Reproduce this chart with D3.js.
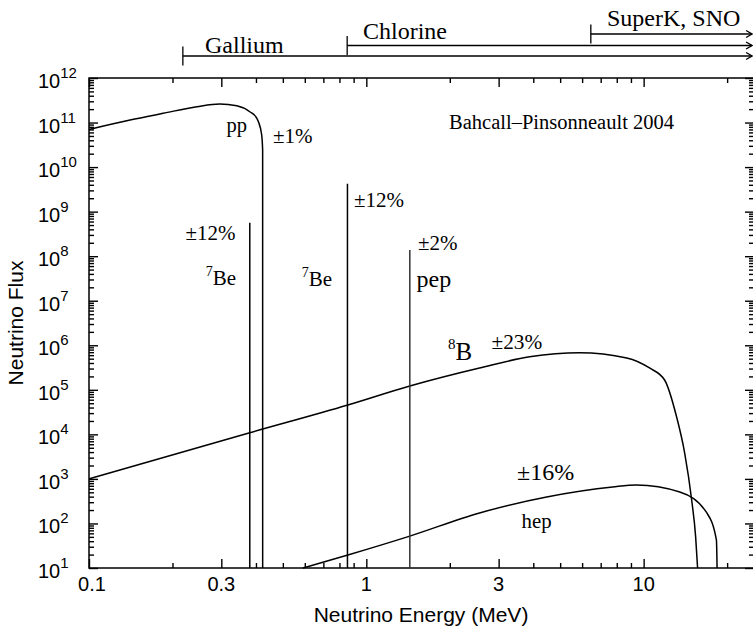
<!DOCTYPE html>
<html><head><meta charset="utf-8">
<script src="https://cdn.jsdelivr.net/npm/d3@7"></script>
<style>body{margin:0;background:#fff}svg{display:block}</style>
</head><body>
<svg id="chart" width="753" height="630"></svg>
<script>
// ---------------- data ----------------
const ppEnergy = [0.1, 0.1406, 0.185, 0.245, 0.296, 0.341, 0.380, 0.403, 0.408, 0.4195, 0.4228, 0.4229];
const ppFlux   = [7.0e10, 1.14e11, 1.61e11, 2.27e11, 2.61e11, 2.39e11, 1.75e11, 1.24e11, 1.05e11, 5.25e10, 2.4e10, 10];

const b8Energy = [0.1, 0.38, 0.858, 1.435, 2.56, 3.88, 5.87, 8.69, 10.5, 11.9, 13.15, 14.06, 14.9, 15.4, 15.65];
const b8Flux   = [1.0e3, 1.09e4, 4.56e4, 1.22e5, 3.09e5, 5.5e5, 6.8e5, 5.2e5, 3.09e5, 1.66e5, 2.45e4, 3.8e3, 336, 50, 10];

const hepEnergy = [0.59, 0.858, 1.435, 2.56, 4.47, 7.73, 9.43, 13.5, 16.9, 18.3, 18.4];
const hepFlux   = [10, 19.6, 52, 172, 393, 658, 730, 508, 172, 42, 10];

const lineNames  = ["7Be", "7Be", "pep"];
const lineEnergy = [0.38, 0.855, 1.435];
const lineFlux   = [5.6e8, 4.2e9, 1.38e8];

const detectors       = ["Gallium", "Chlorine", "SuperK, SNO"];
const thresholdEnergy = [0.218, 0.853, 6.45];

const xMajorTicks = [0.1, 0.3, 1, 3, 10];
const xTickLabels = ["0.1", "0.3", "1", "3", "10"];
const xMinorTicks = [0.2, 0.4, 0.5, 0.6, 0.7, 0.8, 0.9, 2, 4, 5, 6, 7, 8, 9, 20];
const yExponents  = [1, 2, 3, 4, 5, 6, 7, 8, 9, 10, 11, 12];

// ---------------- layout ----------------
const L = 89, R = 754, T = 78, B = 568;
const sans = "'Liberation Sans', Arial, Helvetica, sans-serif";
const serif = "'Liberation Serif', 'Times New Roman', Times, serif";

const svg = d3.select("#chart");
const x = d3.scaleLog().domain([0.1, 25]).range([L, R]);
const y = d3.scaleLog().domain([10, 1e12]).range([B, T]);

const yMajor = yExponents.map(e => Math.pow(10, e));
const yMinor = [];
yExponents.slice(0, -1).forEach(e => { for (let k = 2; k <= 9; k++) yMinor.push(k * Math.pow(10, e)); });

// frame
svg.append("rect").attr("x", L).attr("y", T).attr("width", R - L).attr("height", B - T)
  .attr("fill", "none").attr("stroke", "#000").attr("stroke-width", 1.5);

// inward tick marks drawn with d3 axes
function drawTicks(axis, tx, ty) {
  const g = svg.append("g").attr("transform", `translate(${tx},${ty})`).call(axis);
  g.select(".domain").remove();
  g.selectAll(".tick text").remove();
  g.selectAll(".tick line").attr("stroke", "#000").attr("stroke-width", 1.4);
}
const noLabel = () => "";
drawTicks(d3.axisLeft(y).tickValues(yMajor).tickSizeInner(-9).tickFormat(noLabel), L, 0);
drawTicks(d3.axisLeft(y).tickValues(yMinor).tickSizeInner(-5).tickFormat(noLabel), L, 0);
drawTicks(d3.axisRight(y).tickValues(yMajor).tickSizeInner(-9).tickFormat(noLabel), R, 0);
drawTicks(d3.axisRight(y).tickValues(yMinor).tickSizeInner(-5).tickFormat(noLabel), R, 0);
drawTicks(d3.axisBottom(x).tickValues(xMajorTicks).tickSizeInner(-9).tickFormat(noLabel), 0, B);
drawTicks(d3.axisBottom(x).tickValues(xMinorTicks).tickSizeInner(-5).tickFormat(noLabel), 0, B);
drawTicks(d3.axisTop(x).tickValues(xMajorTicks).tickSizeInner(-9).tickFormat(noLabel), 0, T);
drawTicks(d3.axisTop(x).tickValues(xMinorTicks).tickSizeInner(-5).tickFormat(noLabel), 0, T);

// y tick labels
yExponents.forEach(e => {
  const t = svg.append("text").attr("x", 38).attr("y", y(Math.pow(10, e)) + 10)
    .attr("font-family", sans).attr("font-size", 20).attr("fill", "#000");
  t.append("tspan").text("10");
  t.append("tspan").attr("dy", -10).attr("font-size", 15).text(String(e));
});
// x tick labels
xMajorTicks.forEach((v, i) => {
  svg.append("text").attr("x", x(v) + (i === 0 ? 3 : 0)).attr("y", B + 23)
    .attr("text-anchor", "middle").attr("font-family", sans).attr("font-size", 20)
    .text(xTickLabels[i]);
});
// axis titles
svg.append("text").attr("x", (L + 751) / 2 + 1).attr("y", 622).attr("text-anchor", "middle")
  .attr("font-family", sans).attr("font-size", 21).text("Neutrino Energy (MeV)");
svg.append("text").attr("transform", `translate(23,${(T + B) / 2}) rotate(-90)`).attr("text-anchor", "middle")
  .attr("font-family", sans).attr("font-size", 21).text("Neutrino Flux");

// curves
const line = d3.line().x(d => x(d[0])).y(d => y(d[1])).curve(d3.curveMonotoneX);
[d3.zip(ppEnergy, ppFlux), d3.zip(b8Energy, b8Flux), d3.zip(hepEnergy, hepFlux)].forEach(s => {
  svg.append("path").attr("d", line(s)).attr("fill", "none").attr("stroke", "#000").attr("stroke-width", 1.5);
});
// monoenergetic lines
lineEnergy.forEach((e, i) => {
  svg.append("line").attr("x1", x(e)).attr("x2", x(e)).attr("y1", y(10)).attr("y2", y(lineFlux[i]))
    .attr("stroke", i === 2 ? "#333" : "#000").attr("stroke-width", 1.5);
});

// detector thresholds
const barY = [56, 45.5, 34];
const labelPos = [[205, 52.5], [363, 38.5], [607, 26]];
const arrowTip = x(24.6);
detectors.forEach((d, i) => {
  const x0 = x(thresholdEnergy[i]);
  svg.append("line").attr("x1", x0).attr("x2", arrowTip).attr("y1", barY[i]).attr("y2", barY[i])
    .attr("stroke", "#000").attr("stroke-width", 1.3);
  svg.append("line").attr("x1", x0).attr("x2", x0).attr("y1", barY[i] - 9.5).attr("y2", barY[i] + 9.5)
    .attr("stroke", "#000").attr("stroke-width", 1.3);
  svg.append("path").attr("d", `M${arrowTip - 6},${barY[i] - 3.5}L${arrowTip},${barY[i]}L${arrowTip - 6},${barY[i] + 3.5}`)
    .attr("fill", "none").attr("stroke", "#000").attr("stroke-width", 1.3);
  svg.append("text").attr("x", labelPos[i][0]).attr("y", labelPos[i][1])
    .attr("font-family", serif).attr("font-size", 24).text(d);
});

// annotations
function ann(tx, ty, txt, size, anchor) {
  return svg.append("text").attr("x", tx).attr("y", ty).attr("font-family", serif)
    .attr("font-size", size).attr("text-anchor", anchor || "start").text(txt);
}
function iso(tx, ty, mass, el, size, supSize, anchor) {
  const t = svg.append("text").attr("x", tx).attr("y", ty).attr("font-family", serif)
    .attr("font-size", size).attr("text-anchor", anchor || "start");
  t.append("tspan").attr("font-size", supSize).attr("dy", -(size * 0.42)).text(mass);
  t.append("tspan").attr("dy", size * 0.42).text(el);
}
ann(561.5, 128.5, "Bahcall–Pinsonneault 2004", 20.5, "middle");
ann(226.5, 131.5, "pp", 20.5);
ann(273, 143, "±1%", 21);
ann(235.5, 240, "±12%", 21, "end");
iso(236, 285, "7", "Be", 21, 14, "end");
ann(354, 206.5, "±12%", 21);
iso(332, 286, "7", "Be", 21, 14, "end");
ann(418, 250, "±2%", 21);
ann(416.5, 287, "pep", 24);
iso(448, 359.5, "8", "B", 25, 15);
ann(491.5, 348.5, "±23%", 21.3);
ann(517, 479.5, "±16%", 24);
ann(521.5, 527.5, "hep", 20.8);
</script>
</body></html>
